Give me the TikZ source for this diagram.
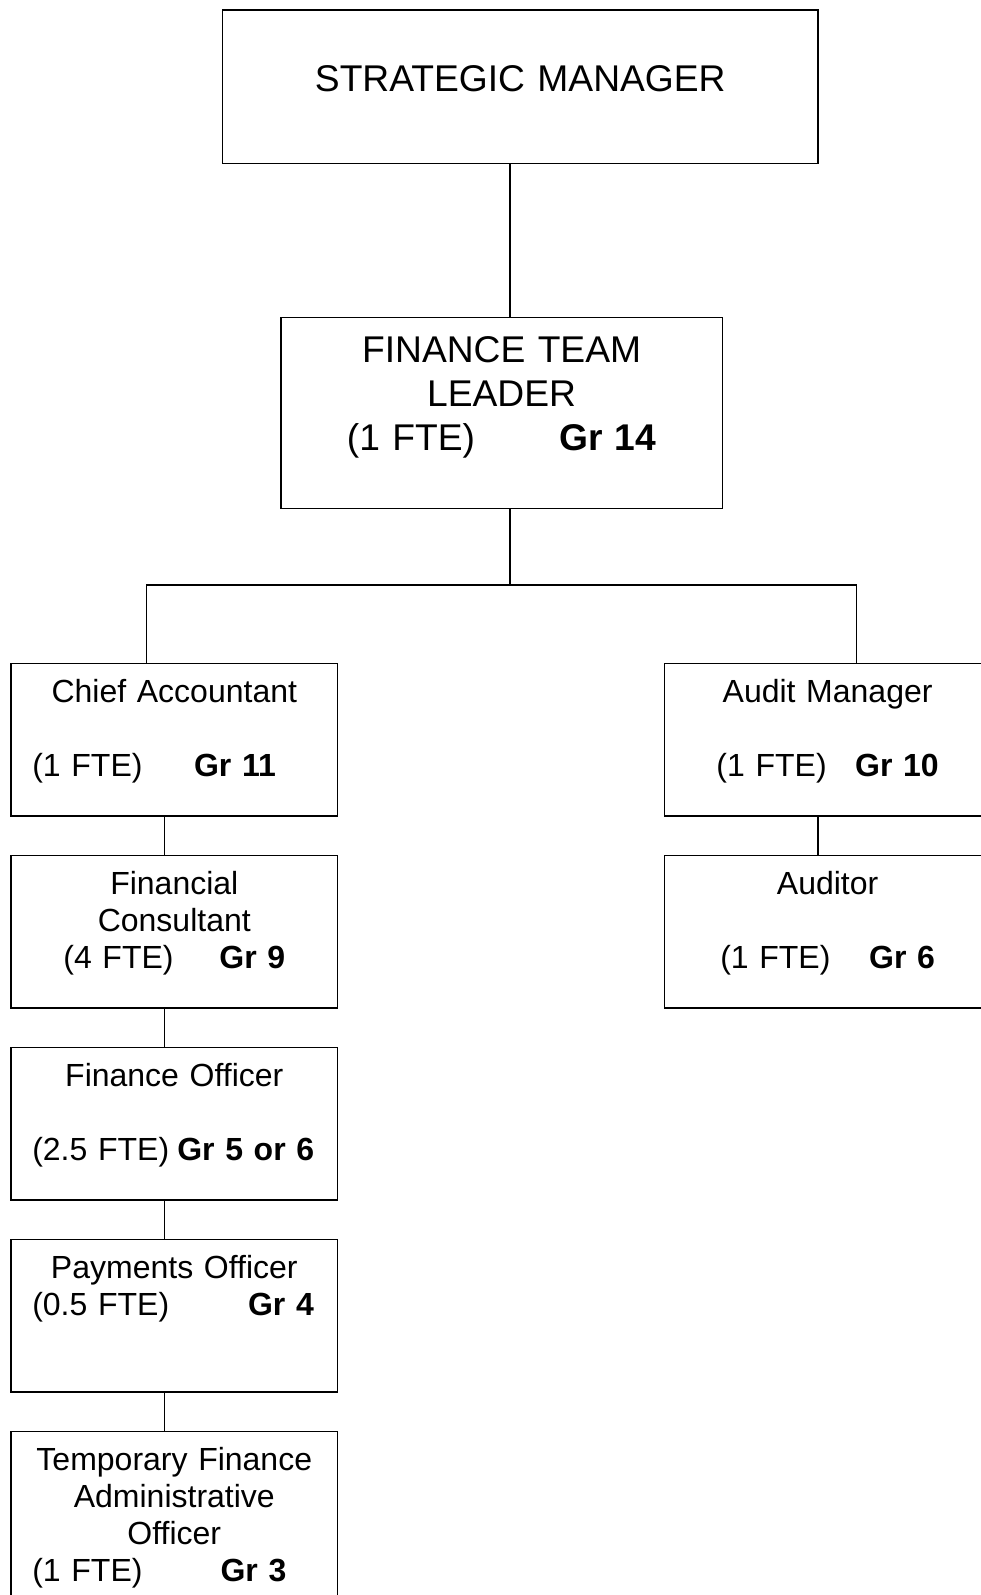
\documentclass[tikz,border=0pt]{standalone}
\usepackage{fontspec}
\setmainfont{Liberation Sans}

\newcommand{\tabline}[3]{\makebox[326.6pt][l]{\hspace{21.3pt}\makebox[#2][l]{#1}\textbf{#3}}}
\newcommand{\topstrut}[1]{\rule{0pt}{#1}}

\begin{document}
\begin{tikzpicture}[x=1pt,y=-1pt,
        post/.style={draw, line width=1.6pt, inner sep=0pt, anchor=north west, minimum width=326.6pt, minimum height=152.6pt},
        posttext/.style={anchor=north, inner sep=0pt, text width=326.6pt, align=center, font=\fontsize{32}{37}\selectfont},
        headtext/.style={anchor=north, inner sep=0pt, align=center, font=\fontsize{37.2}{44}\selectfont},
        link/.style={line width=1.6pt}]
        \useasboundingbox (0,0) rectangle (981,1595);
        \clip (0,0) rectangle (981,1595);
        \node[post, minimum width=595.3pt, minimum height=153.6pt] (sm) at (221.8,9.2) {};
        \node[headtext, text width=595.3pt] (sm-t) at (sm.north) {\topstrut{82.5pt}STRATEGIC MANAGER};
        \node[post, minimum width=441.6pt, minimum height=191.3pt] (ftl) at (280,316.5) {};
        \node[headtext, text width=441.6pt] (ftl-t) at (ftl.north) {\topstrut{45.9pt}FINANCE TEAM\\LEADER\\(1 FTE)\hspace{84pt}\textbf{Gr 14}};
        \node[post] (ca) at (10.2,662.5) {};
        \node[posttext] (ca-t) at (ca.north) {\topstrut{40pt}Chief Accountant\\[37pt]\tabline{(1 FTE)}{161.8pt}{Gr 11}};
        \node[post] (fc) at (10.2,854.5) {};
        \node[posttext] (fc-t) at (fc.north) {\topstrut{40pt}Financial\\Consultant\\(4 FTE)\hspace{45.8pt}\textbf{Gr 9}};
        \node[post] (fo) at (10.2,1046.5) {};
        \node[posttext] (fo-t) at (fo.north) {\topstrut{40pt}Finance Officer\\[37pt]\tabline{(2.5 FTE)}{145pt}{Gr 5 or 6}};
        \node[post] (po) at (10.2,1238.5) {};
        \node[posttext] (po-t) at (po.north) {\topstrut{40pt}Payments Officer\\\tabline{(0.5 FTE)}{215.8pt}{Gr 4}};
        \node[post, minimum height=200pt] (tfa) at (10.2,1430.5) {};
        \node[posttext] (tfa-t) at (tfa.north) {\topstrut{40pt}Temporary Finance\\Administrative\\Officer\\\tabline{(1 FTE)}{188.3pt}{Gr 3}};
        \node[post] (am) at (663.5,662.5) {};
        \node[posttext] (am-t) at (am.north) {\topstrut{40pt}Audit Manager\\[37pt](1 FTE)\hspace{28.5pt}\textbf{Gr 10}};
        \node[post] (au) at (663.5,854.5) {};
        \node[posttext] (au-t) at (au.north) {\topstrut{40pt}Auditor\\[37pt](1 FTE)\hspace{38.7pt}\textbf{Gr 6}};
        \coordinate (bus) at (510,585);
        \draw[link] (sm.south -| bus) -- (ftl.north -| bus);
        \draw[link] (ftl.south -| bus) -- (bus);
        \draw[link] ([xshift=-28pt]ca.north) |- (bus) -| ([xshift=29pt]am.north);
        \foreach \a/\b in {ca/fc,fc/fo,fo/po,po/tfa,am/au}
            {\draw[link] ([xshift=-9.7pt]\a.south) -- ([xshift=-9.7pt]\b.north);}
    \end{tikzpicture}
\end{document}
